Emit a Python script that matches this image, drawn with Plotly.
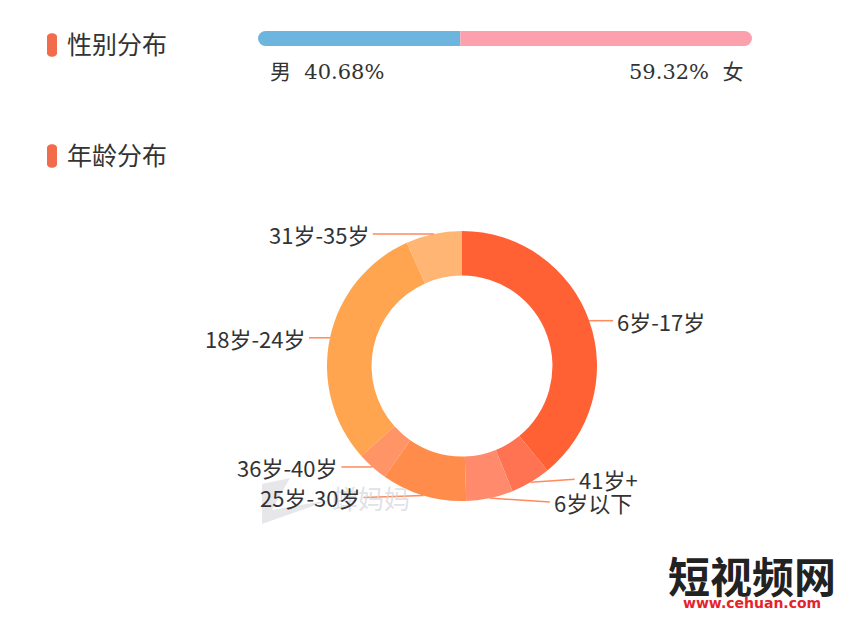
import math
import plotly.graph_objects as go

# page body has an 8px margin; figure sized to fit inside it
OFF = 8
W, H = 847 - 2 * OFF, 619 - 2 * OFF

# ---- data ----
gender_labels = ["男", "女"]
gender_values = [40.68, 59.32]
gender_colors = ["#6DB5DF", "#FDA0AD"]

age_labels = ["6岁-17岁", "41岁+", "6岁以下", "25岁-30岁", "36岁-40岁", "18岁-24岁", "31岁-35岁"]
age_values = [39.1, 4.8, 5.6, 10.2, 3.7, 29.9, 6.7]
age_colors = ["#FF6135", "#FF7352", "#FF8A6C", "#FF8C4A", "#FF9466", "#FFA54F", "#FFB573"]
# leader line lengths and label vertical nudges (px), style only
line_len = [24, 44, 60, 60, 31, 21, 61]
label_dy = [0, -3, 4, 2, 0, 0, 0]


def px(x):
    return (x - OFF) / W


def py(y):
    return 1 - (y - OFF) / H


fig = go.Figure()

# ---- gender bar (scatter with thick lines + round caps) ----
male, female = gender_values
fig.add_trace(go.Scatter(
    x=[0, male], y=[0, 0], mode="lines+markers",
    line=dict(color=gender_colors[0], width=15),
    marker=dict(size=[15, 0], color=gender_colors[0], opacity=1, line=dict(width=0)),
    cliponaxis=False, hoverinfo="skip", showlegend=False,
    xaxis="x", yaxis="y"))
fig.add_trace(go.Scatter(
    x=[male, male + female], y=[0, 0], mode="lines+markers",
    line=dict(color=gender_colors[1], width=15),
    marker=dict(size=[0, 15], color=gender_colors[1], opacity=1, line=dict(width=0)),
    cliponaxis=False, hoverinfo="skip", showlegend=False,
    xaxis="x", yaxis="y"))

# ---- age donut ----
cx, cy, R = 462, 366, 135
fig.add_trace(go.Pie(
    labels=age_labels, values=age_values, sort=False, direction="clockwise",
    rotation=0, hole=0.67, marker=dict(colors=age_colors, line=dict(width=0)),
    textinfo="none", hoverinfo="label+percent", showlegend=False,
    domain=dict(x=[px(cx - R), px(cx + R)], y=[py(cy + R), py(cy - R)])))

annotations = []
shapes = []

# watermark (drawn first)
shapes.append(dict(
    type="path", xref="paper", yref="paper",
    path="M {} {} L {} {} L {} {} Q {} {} {} {} L {} {} Z".format(
        px(262), py(484), px(290), py(478), px(272), py(510),
        px(300), py(505), px(330), py(500), px(262), py(524)),
    fillcolor="rgba(225,225,228,0.8)", line=dict(width=0), layer="above"))
annotations.append(dict(
    x=px(330), y=py(497), xref="paper", yref="paper", xanchor="left", yanchor="middle",
    text="蝉妈妈", showarrow=False,
    font=dict(family="Noto Sans CJK SC", size=26, color="rgba(215,215,222,0.75)")))

# leader lines and labels computed from data
total = sum(age_values)
cum = 0
for lab, v, L, dy in zip(age_labels, age_values, line_len, label_dy):
    mid = (cum + v / 2) / total * 2 * math.pi
    cum += v
    ax = cx + R * math.sin(mid)
    ay = cy - R * math.cos(mid)
    right = math.sin(mid) >= 0
    ex = ax + L if right else ax - L
    shapes.append(dict(type="line", xref="paper", yref="paper",
                       x0=px(ax), y0=py(ay), x1=px(ex), y1=py(ay + dy),
                       line=dict(color="#FF8A5C", width=1.5), layer="above"))
    annotations.append(dict(
        x=px(ex + (2 if right else -2)), y=py(ay + dy), xref="paper", yref="paper",
        xanchor="left" if right else "right", yanchor="middle",
        text=lab, showarrow=False,
        font=dict(family="Noto Sans CJK SC", size=22, color="#333333")))

# section titles with pill markers
for title, ty in [("性别分布", 45), ("年龄分布", 156)]:
    t, b, l, r = ty - 13, ty + 13, 47, 57
    shapes.append(dict(
        type="path", xref="paper", yref="paper",
        path=("M {l} {t1} C {l} {t} {r} {t} {r} {t1} L {r} {b1} C {r} {b} {l} {b} {l} {b1} Z").format(
            l=px(l), r=px(r), t=py(t), t1=py(t + 5), b=py(b), b1=py(b - 5)),
        fillcolor="#F26B4A", line=dict(width=0)))
    annotations.append(dict(
        x=px(65), y=py(ty), xref="paper", yref="paper", xanchor="left", yanchor="middle",
        text=title, showarrow=False,
        font=dict(family="DejaVu Serif, Noto Sans CJK SC", size=25, color="#333333")))

# gender labels
gfont = dict(family="DejaVu Serif, Noto Sans CJK SC", size=21, color="#333333")
annotations.append(dict(
    x=px(268), y=py(72), xref="paper", yref="paper", xanchor="left", yanchor="middle",
    text=f"{gender_labels[0]}  {male:.2f}%", showarrow=False, font=gfont))
annotations.append(dict(
    x=px(745), y=py(72), xref="paper", yref="paper", xanchor="right", yanchor="middle",
    text=f"{female:.2f}%  {gender_labels[1]}", showarrow=False, font=gfont))

# bottom-right logo
annotations.append(dict(
    x=px(752), y=py(574), xref="paper", yref="paper", xanchor="center", yanchor="middle",
    text="<b>短视频网</b>", showarrow=False,
    font=dict(family="Noto Sans CJK SC", size=42, color="#222222")))
annotations.append(dict(
    x=px(752), y=py(603), xref="paper", yref="paper", xanchor="center", yanchor="middle",
    text="<b>www.cehuan.com</b>", showarrow=False,
    font=dict(family="DejaVu Sans", size=14, color="#E5232B")))

fig.update_layout(
    width=W, height=H, margin=dict(l=0, r=0, t=0, b=0),
    paper_bgcolor="white", plot_bgcolor="white",
    xaxis=dict(domain=[px(265.5), px(744.5)], range=[0, 100], visible=False, fixedrange=True),
    yaxis=dict(domain=[py(48), py(29)], range=[-1, 1], visible=False, fixedrange=True),
    shapes=shapes, annotations=annotations, showlegend=False)

fig.write_html("out.html")
